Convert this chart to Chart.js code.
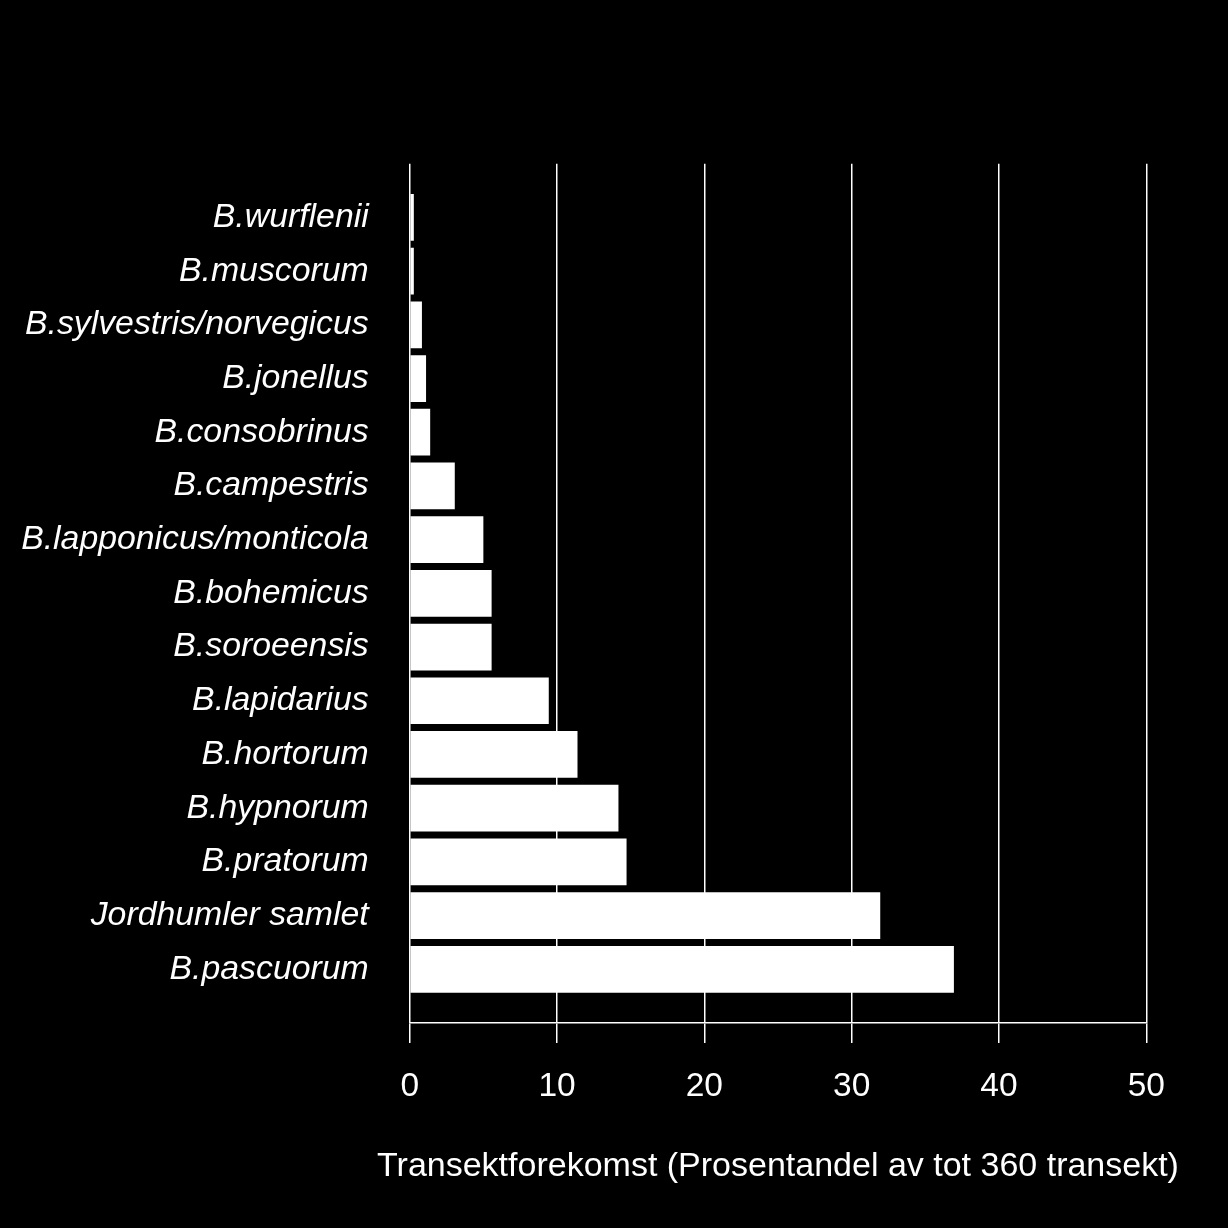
<!DOCTYPE html>
<html><head><meta charset="utf-8">
<script src="https://cdn.jsdelivr.net/npm/chart.js@4"></script>
<style>html,body{margin:0;padding:0;background:#000;} #wrap{width:1228px;height:1228px;}</style>
</head><body><div id="wrap"><canvas id="c" width="1228" height="1228"></canvas></div>
<script>
const categories = [
  'B.wurflenii', 'B.muscorum', 'B.sylvestris/norvegicus', 'B.jonellus', 'B.consobrinus',
  'B.campestris', 'B.lapponicus/monticola', 'B.bohemicus', 'B.soroeensis', 'B.lapidarius',
  'B.hortorum', 'B.hypnorum', 'B.pratorum', 'Jordhumler samlet', 'B.pascuorum'
];
const values = [0.28, 0.28, 0.83, 1.11, 1.39, 3.06, 5.00, 5.56, 5.56, 9.44, 11.39, 14.17, 14.72, 31.94, 36.94];
const xTicks = [0, 10, 20, 30, 40, 50];
const xTitle = 'Transektforekomst (Prosentandel av tot 360 transekt)';

const FONT = "'Liberation Sans', Arial, Helvetica, sans-serif";

const bgPlugin = {
  id: 'bg',
  beforeDraw(chart) {
    const ctx = chart.ctx;
    ctx.save();
    ctx.fillStyle = '#000';
    ctx.fillRect(0, 0, chart.width, chart.height);
    ctx.restore();
  }
};

// axis title drawn without width compression, centred on the plot area
const xTitlePlugin = {
  id: 'xTitle',
  afterDraw(chart) {
    const ctx = chart.ctx;
    const a = chart.chartArea;
    ctx.save();
    ctx.fillStyle = '#ffffff';
    ctx.font = '34px ' + FONT;
    ctx.textAlign = 'center';
    ctx.textBaseline = 'middle';
    ctx.fillText(xTitle, (a.left + a.right) / 2, chart.scales.x.bottom - 61);
    ctx.restore();
  }
};

new Chart(document.getElementById('c'), {
  type: 'bar',
  data: {
    datasets: [{
      data: values.map((v, i) => ({ x: v, y: i })),
      backgroundColor: '#ffffff',
      borderWidth: 0,
      barPercentage: 0.87,
      categoryPercentage: 1.0
    }]
  },
  options: {
    indexAxis: 'y',
    responsive: false,
    animation: false,
    layout: { padding: { left: 10, right: 81.7, top: 163.7, bottom: 0 } },
    plugins: { legend: { display: false }, tooltip: { enabled: false } },
    scales: {
      x: {
        type: 'linear',
        min: xTicks[0],
        max: xTicks[xTicks.length - 1],
        offset: false,
        afterBuildTicks(s) { s.ticks = xTicks.map(v => ({ value: v })); },
        afterFit(s) { s.height = 205; },
        grid: { color: '#ffffff', lineWidth: 1.5, tickLength: 20, drawTicks: true, tickColor: '#ffffff', tickWidth: 1.5 },
        border: { display: true, color: '#ffffff', width: 1.5 },
        ticks: { color: '#ffffff', font: { family: FONT, size: 33.5 }, padding: 24, maxRotation: 0 },
        title: { display: false }
      },
      y: {
        type: 'linear',
        reverse: true,
        offset: false,
        bounds: 'data',
        min: -1,
        max: categories.length,
        afterBuildTicks(s) { s.ticks = categories.map((c, i) => ({ value: i })); },
        afterFit(s) { s.width = 399.7; },
        grid: { display: false, drawTicks: false, offset: false },
        border: { display: false },
        ticks: {
          autoSkip: false,
          color: '#ffffff',
          font: { family: FONT, size: 33.8, style: 'italic' },
          padding: 41,
          callback: (v) => categories[v] ?? ''
        }
      }
    }
  },
  plugins: [bgPlugin, xTitlePlugin]
});
</script>
</body></html>
